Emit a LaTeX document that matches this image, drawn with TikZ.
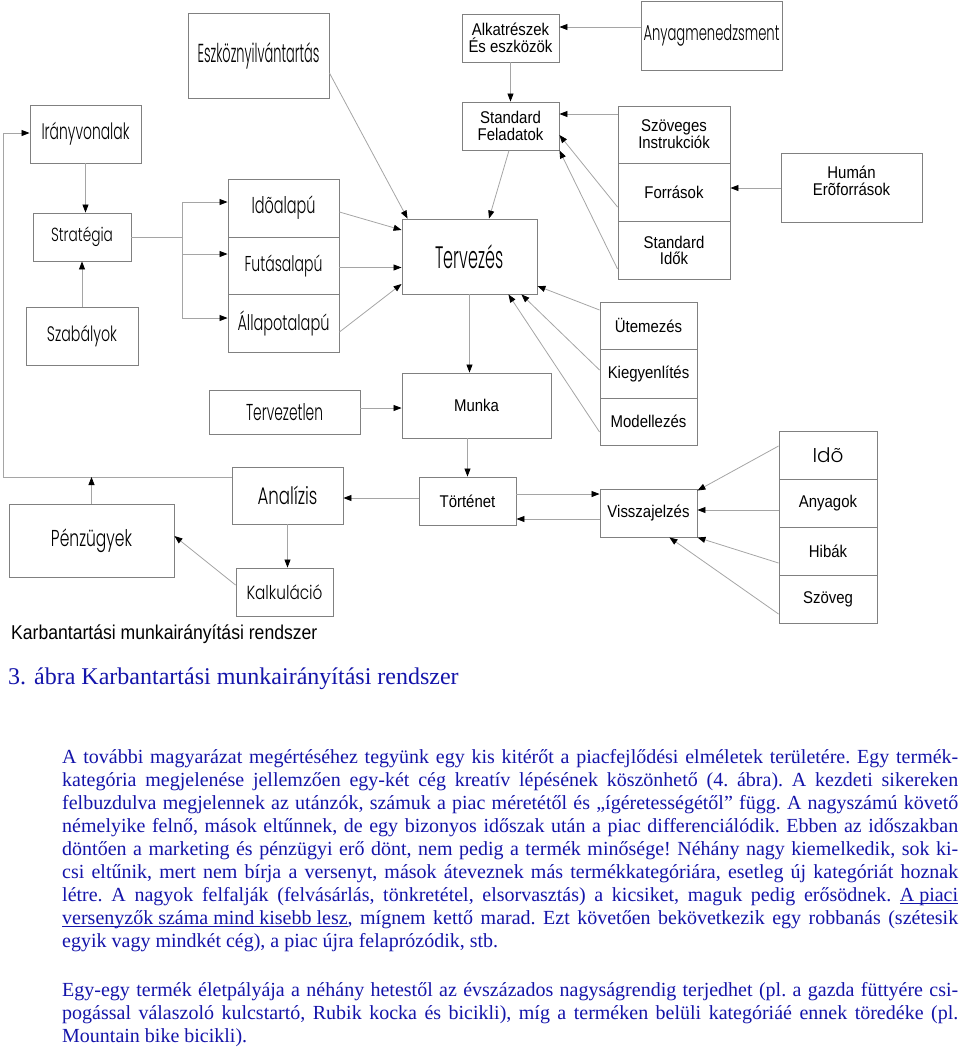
\documentclass[tikz,border=0pt]{standalone}
\usepackage{fontspec}
\usepackage{graphicx}
\setmainfont{Liberation Serif}
\IfFontExistsTF{Poppins Light}{\newfontfamily\gothicfont{Poppins Light}}{\newfontfamily\gothicfont{Poppins}}
\newfontfamily\arialfont{Liberation Sans}[FakeStretch=0.88]
\usetikzlibrary{arrows.meta}
\definecolor{boxgray}{RGB}{128,128,128}
\definecolor{linegray}{RGB}{165,165,165}
\definecolor{textblue}{RGB}{20,20,170}
\newcommand{\gl}[3]{\resizebox{#2pt}{\height}{\fontsize{#1}{#1}\selectfont\gothicfont #3}}
\newcommand{\undl}[1]{\setbox0\hbox{#1}\rlap{\rule[-2.4pt]{\wd0}{0.9pt}}\box0}

\begin{document}
\begin{tikzpicture}[x=1pt, y=-1pt,
    box/.style={draw=boxgray, line width=0.9pt, inner sep=0pt, align=center,
      font=\arialfont\fontsize{17}{17}\selectfont},
    wire/.style={draw=linegray, line width=0.8pt},
    conn/.style={wire, -{Triangle[length=8pt, width=6pt, color=black]}}]
        \useasboundingbox (0,0) rectangle (960,1053);

        \node[box, minimum width=141pt, minimum height=85pt] (eszkoz) at (258.5,55.5) {\gl{26}{122}{Eszköznyilvántartás}};
        \node[box, minimum width=97pt, minimum height=48pt] (alkat) at (510.5,38) {Alkatrészek\\És eszközök};
        \node[box, minimum width=141pt, minimum height=69pt] (anyagm) at (711.5,35.5) {\gl{21.5}{136}{Anyagmenedzsment}};
        \node[box, minimum width=111pt, minimum height=58pt] (irany) at (85.5,134) {\gl{22.5}{88}{Irányvonalak}};
        \node[box, minimum width=97pt, minimum height=48pt] (stdfel) at (510.5,126) {Standard\\Feladatok};
        \node[box, minimum width=112pt, minimum height=57pt] (szoveges) at (674,134.5) {Szöveges\\Instrukciók};
        \node[box, minimum width=112pt, minimum height=58pt] (forras) at (674,192) {Források};
        \node[box, minimum width=112pt, minimum height=58pt] (stdido) at (674,250) {Standard\\[-1pt]Idők};
        \node[box, minimum width=141pt, minimum height=69pt] (human) at (851.5,187.5) {Humán\\Erõforrások\\[-4pt]\mbox{}};

        \node[box, minimum width=98pt, minimum height=48pt] (strat) at (82,237) {\gl{19}{62}{Stratégia}};
        \node[box, minimum width=111pt, minimum height=58pt] (idoalap) at (283.5,208) {\gl{23}{64}{Idõalapú}};
        \node[box, minimum width=111pt, minimum height=57pt] (futas) at (283.5,265.5) {\gl{21.5}{78}{Futásalapú}};
        \node[box, minimum width=111pt, minimum height=58pt] (allapot) at (283.5,323) {\gl{21.5}{92}{Állapotalapú}};
        \node[box, minimum width=135pt, minimum height=75pt] (terv) at (469.5,256.5) {\gl{31}{68}{Tervezés}};
        \node[box, minimum width=112pt, minimum height=58pt] (szab) at (82,336) {\gl{21}{70}{Szabályok}};

        \node[box, minimum width=97pt, minimum height=47pt] (utem) at (648.5,325.5) {Ütemezés};
        \node[box, minimum width=97pt, minimum height=49pt] (kiegy) at (648.5,373.5) {Kiegyenlítés};
        \node[box, minimum width=97pt, minimum height=47pt] (model) at (648.5,421.5) {Modellezés};
        \node[box, minimum width=151pt, minimum height=44pt] (tervtlen) at (284.5,412) {\gl{23}{77}{Tervezetlen}};
        \node[box, minimum width=149pt, minimum height=65pt] (munka) at (476.5,405.5) {Munka};

        \node[box, minimum width=98pt, minimum height=48pt] (ido) at (828,455) {\gl{20}{31}{Idõ}};
        \node[box, minimum width=98pt, minimum height=48pt] (anyag) at (828,503) {Anyagok};
        \node[box, minimum width=98pt, minimum height=48pt] (hibak) at (828,551) {Hibák};
        \node[box, minimum width=98pt, minimum height=48pt] (szoveg) at (828,599) {Szöveg};
        \node[box, minimum width=111pt, minimum height=57pt] (analiz) at (287.5,495.5) {\gl{24}{60}{Analízis}};
        \node[box, minimum width=97pt, minimum height=48pt] (tort) at (467.5,501) {Történet};
        \node[box, minimum width=97pt, minimum height=48pt] (vissza) at (648.5,513) {Visszajelzés};
        \node[box, minimum width=165pt, minimum height=73pt] (penz) at (91.5,540.5) {\gl{23}{81}{Pénzügyek}};
        \node[box, minimum width=97pt, minimum height=48pt] (kalk) at (284.5,592) {\gl{19}{76}{Kalkuláció}};

        \coordinate (loopb) at (3,477);
        \coordinate (loopt) at (3,133);
        \coordinate (fork) at (182,237);

        \draw[conn] (anyagm.west |- 0,27) -- (alkat.east |- 0,27);
        \draw[conn] (alkat.south) -- (alkat.south |- stdfel.north);
        \draw[conn] (szoveges.west |- 0,114) -- (stdfel.east |- 0,114);
        \draw[conn] ([yshift=-15pt]forras.west) -- ([yshift=-9pt]stdfel.east);
        \draw[conn] ([yshift=-19pt]stdido.west) -- (stdfel.south east);
        \draw[conn] (human.west |- 0,188) -- (forras.east |- 0,188);
        \draw[conn] ([xshift=-1.5pt]stdfel.south) -- ([xshift=19.5pt]terv.north);
        \draw[conn] ([yshift=-17.5pt]eszkoz.east) -- ([xshift=6pt]terv.north west);

        \draw[conn] (irany.south) -- (irany.south |- strat.north);
        \draw[conn] (szab.north) -- (strat.south);
        \draw[wire] (strat.east) -- (fork);
        \draw[conn] (fork) |- ([yshift=6pt]idoalap.west);
        \draw[conn] (fork) |- ([yshift=11.5pt]futas.west);
        \draw[conn] (fork) |- ([yshift=5pt]allapot.west);

        \draw[conn] ([yshift=-4pt]idoalap.east) -- ([yshift=26.5pt]terv.west);
        \draw[conn] ([yshift=-2pt]futas.east) -- ([yshift=-2pt]futas.east -| terv.west);
        \draw[conn] ([yshift=-9pt]allapot.east) -- ([yshift=-27.5pt]terv.west);
        \draw[conn] ([yshift=15.5pt]utem.west) -- ([yshift=-29.5pt]terv.east);
        \draw[conn] ([yshift=3.5pt]kiegy.west) -- ([xshift=-16pt]terv.south east);
        \draw[conn] ([yshift=-10.5pt]model.west) -- ([xshift=-29pt]terv.south east);
        \draw[conn] (terv.south) -- (terv.south |- munka.north);
        \draw[conn] ([yshift=4pt]tervtlen.east) -- ([yshift=4pt]tervtlen.east -| munka.west);
        \draw[conn] (munka.south -| tort.north) -- (tort.north);

        \draw[conn] ([yshift=7pt]tort.east) -- ([yshift=7pt]tort.east -| vissza.west);
        \draw[conn] ([yshift=-6pt]vissza.west) -- ([yshift=-6pt]vissza.west -| tort.east);
        \draw[conn] ([yshift=3pt]tort.west) -- ([yshift=3pt]tort.west -| analiz.east);
        \draw[conn] ([yshift=9pt]ido.west) -- ([yshift=-2pt]vissza.north east);
        \draw[conn] ([yshift=-7pt]anyag.west) -- ([yshift=-7pt]anyag.west -| vissza.east);
        \draw[conn] ([yshift=-12pt]hibak.west) -- (vissza.south east);
        \draw[conn] ([yshift=-15pt]szoveg.west) -- ([xshift=-28pt]vissza.south east);

        \draw[conn] (analiz.south) -- (analiz.south |- kalk.north);
        \draw[conn] ([yshift=7pt]kalk.west) -- ([yshift=4.5pt]penz.east);
        \draw[conn] ([yshift=18.5pt]analiz.west) -- (loopb) -- (loopt) -- (loopt -| irany.west);
        \draw[conn] (penz.north) -- (penz.north |- loopb);

        \node[anchor=base west, inner sep=0pt, font=\arialfont\fontsize{20}{20}\selectfont] (cap) at (11,639) {Karbantartási munkairányítási rendszer};
        \node[anchor=base west, inner sep=0pt, text=textblue, font=\fontsize{24}{24}\selectfont] (fig) at (8,684) {3. ábra Karbantartási munkairányítási rendszer};

        \node[anchor=north west, inner sep=0pt, text width=896pt, align=justify, text=textblue,
          font=\fontsize{20}{23}\selectfont] (body) at (62,749) {\tolerance=10000 \frenchspacing
          A további magyarázat megértéséhez tegyünk egy kis kitérőt a piacfejlődési elméletek területére. Egy termék-\linebreak
          kategória megjelenése jellemzően egy-két cég kreatív lépésének köszönhető (4. ábra). A kezdeti sikereken\linebreak
          felbuzdulva megjelennek az utánzók, számuk a piac méretétől és „ígéretességétől” függ. A nagyszámú követő\linebreak
          némelyike felnő, mások eltűnnek, de egy bizonyos időszak után a piac differenciálódik. Ebben az időszakban\linebreak
          döntően a marketing és pénzügyi erő dönt, nem pedig a termék minősége! Néhány nagy kiemelkedik, sok ki-\linebreak
          csi eltűnik, mert nem bírja a versenyt, mások áteveznek más termékkategóriára, esetleg új kategóriát hoznak\linebreak
          létre. A nagyok felfalják (felvásárlás, tönkretétel, elsorvasztás) a kicsiket, maguk pedig erősödnek. \undl{A piaci}\linebreak
          \undl{versenyzők száma mind kisebb lesz}, mígnem kettő marad. Ezt követően bekövetkezik egy robbanás (szétesik\linebreak
          egyik vagy mindkét cég), a piac újra felaprózódik, stb.\par
          \vspace{26pt}
          Egy-egy termék életpályája a néhány hetestől az évszázados nagyságrendig terjedhet (pl. a gazda füttyére csi-\linebreak
          pogással válaszoló kulcstartó, Rubik kocka és bicikli), míg a terméken belüli kategóriáé ennek töredéke (pl.\linebreak
          Mountain bike bicikli).};
     \end{tikzpicture}
\end{document}
